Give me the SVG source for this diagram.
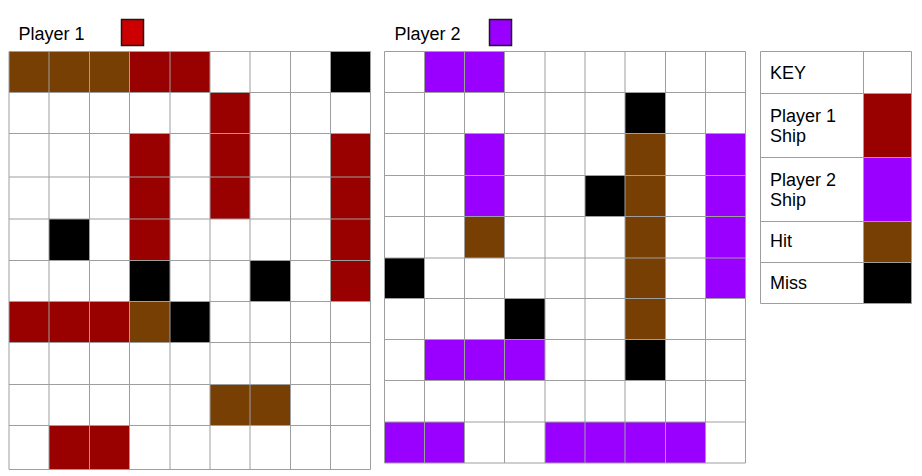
<svg xmlns="http://www.w3.org/2000/svg" width="922" height="476" viewBox="0 0 922 476">
<style>
.t{font-family:"Liberation Sans",Arial,sans-serif;font-size:18px;fill:#000}
.b{fill:#783f04}.r{fill:#990000}.p{fill:#9900ff}.k{fill:#000}
.gl{fill:none;stroke:#9e9e9e;stroke-width:1}
.sw{stroke:#1a1a1a;stroke-width:1.5}
</style>
<rect width="922" height="476" fill="#fff"/>
<g id="title1">
<text class="t" x="18.5" y="40">Player 1</text>
<rect class="sw" x="121.5" y="19.5" width="22" height="26" fill="#cc0000"/>
</g>
<g id="title2">
<text class="t" x="394.5" y="40">Player 2</text>
<rect class="sw" x="489.5" y="19.5" width="22" height="26" fill="#9900ff"/>
</g>
<g id="grid1">
<rect class="b" x="9" y="51.5" width="120.5" height="41"/>
<rect class="r" x="129.5" y="51.5" width="80.5" height="41"/>
<rect class="k" x="330.5" y="51.5" width="40" height="41"/>
<rect class="r" x="210" y="92.5" width="40" height="126.5"/>
<rect class="r" x="129.5" y="133.5" width="40.5" height="127"/>
<rect class="r" x="330.5" y="133.5" width="40" height="168"/>
<rect class="k" x="49" y="219" width="40.5" height="41.5"/>
<rect class="k" x="129.5" y="260.5" width="40.5" height="41"/>
<rect class="k" x="250" y="260.5" width="40.5" height="41"/>
<rect class="r" x="9" y="301.5" width="120.5" height="41"/>
<rect class="b" x="129.5" y="301.5" width="40.5" height="41"/>
<rect class="k" x="170" y="301.5" width="40" height="41"/>
<rect class="b" x="210" y="384.5" width="80.5" height="41"/>
<rect class="r" x="49" y="425.5" width="80.5" height="44"/>
<path class="gl" d="M9 51.5V469.5M49 51.5V469.5M89.5 51.5V469.5M129.5 51.5V469.5M170 51.5V469.5M210 51.5V469.5M250 51.5V469.5M290.5 51.5V469.5M330.5 51.5V469.5M370.5 51.5V469.5M9 51.5H370.5M9 92.5H370.5M9 133.5H370.5M9 177H370.5M9 219H370.5M9 260.5H370.5M9 301.5H370.5M9 342.5H370.5M9 384.5H370.5M9 425.5H370.5M9 469.5H370.5"/>
</g>
<g id="grid2">
<rect class="p" x="424.5" y="51.5" width="80" height="41"/>
<rect class="k" x="625" y="92.5" width="40.5" height="41"/>
<rect class="p" x="464.5" y="133.5" width="40" height="83"/>
<rect class="b" x="464.5" y="216.5" width="40" height="41.5"/>
<rect class="b" x="625" y="133.5" width="40.5" height="206"/>
<rect class="p" x="705.5" y="133.5" width="40" height="165"/>
<rect class="k" x="585" y="175.5" width="40" height="41"/>
<rect class="k" x="384.5" y="258" width="40" height="40.5"/>
<rect class="k" x="504.5" y="298.5" width="40.5" height="41"/>
<rect class="p" x="424.5" y="339.5" width="120.5" height="41"/>
<rect class="k" x="625" y="339.5" width="40.5" height="41"/>
<rect class="p" x="384.5" y="422" width="80" height="41"/>
<rect class="p" x="545" y="422" width="160.5" height="41"/>
<path class="gl" d="M384.5 51.5V463M424.5 51.5V463M464.5 51.5V463M504.5 51.5V463M545 51.5V463M585 51.5V463M625 51.5V463M665.5 51.5V463M705.5 51.5V463M745.5 51.5V463M384.5 51.5H745.5M384.5 92.5H745.5M384.5 133.5H745.5M384.5 175.5H745.5M384.5 216.5H745.5M384.5 258H745.5M384.5 298.5H745.5M384.5 339.5H745.5M384.5 380.5H745.5M384.5 422H745.5M384.5 463H745.5"/>
</g>
<g id="key">
<rect class="r" x="863.5" y="93.5" width="48" height="64"/>
<rect class="p" x="863.5" y="157.5" width="48" height="64"/>
<rect class="b" x="863.5" y="221.5" width="48" height="41"/>
<rect class="k" x="863.5" y="262.5" width="48" height="41"/>
<path class="gl" d="M760.5 51.5H911.5V303.5H760.5ZM863.5 51.5V303.5M760.5 93.5H911.5M760.5 157.5H911.5M760.5 221.5H911.5M760.5 262.5H911.5"/>
<text class="t" x="770" y="78.5">KEY</text>
<text class="t" x="770" y="121.5">Player 1</text>
<text class="t" x="770" y="142">Ship</text>
<text class="t" x="770" y="185.5">Player 2</text>
<text class="t" x="770" y="206">Ship</text>
<text class="t" x="770" y="247">Hit</text>
<text class="t" x="770" y="288.5">Miss</text>
</g>
</svg>
